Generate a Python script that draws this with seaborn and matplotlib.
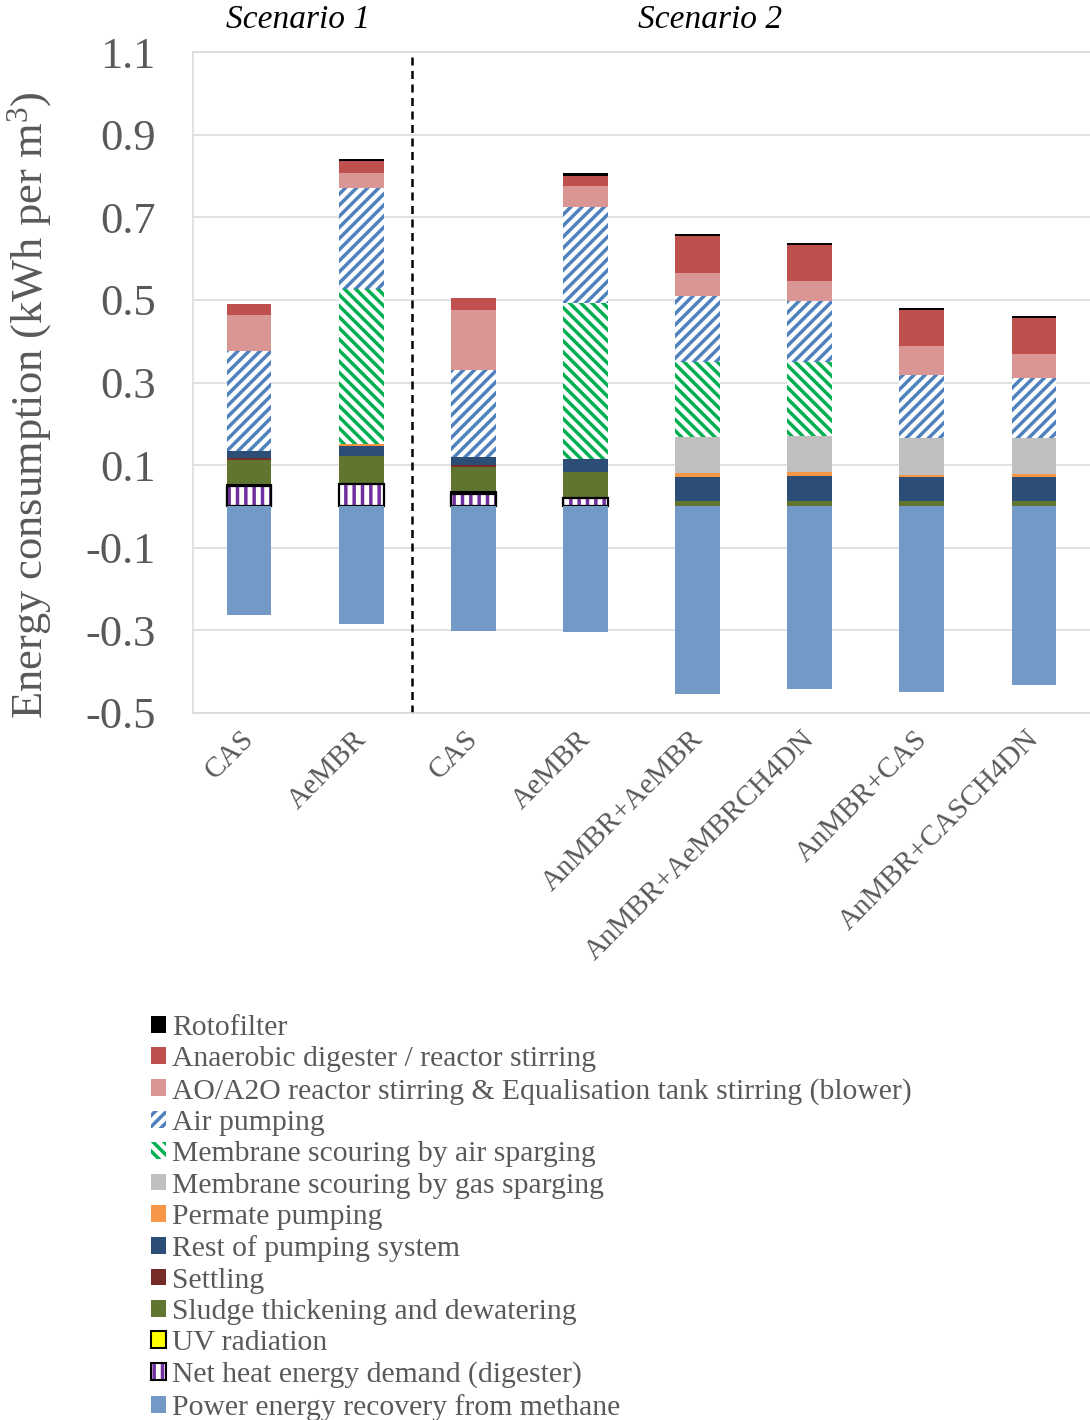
import numpy as np
import pandas as pd
import matplotlib
matplotlib.use("Agg")
import matplotlib.pyplot as plt
import matplotlib.transforms as mtransforms
from matplotlib.patches import Patch
import seaborn as sns

# ---------------- data ----------------
keys = ["CAS_1", "AeMBR_1", "CAS_2", "AeMBR_2", "AnMBR+AeMBR",
        "AnMBR+AeMBRCH4DN", "AnMBR+CAS", "AnMBR+CASCH4DN"]
tick_labels = ["CAS", "AeMBR", "CAS", "AeMBR", "AnMBR+AeMBR",
               "AnMBR+AeMBRCH4DN", "AnMBR+CAS", "AnMBR+CASCH4DN"]

rotofilter = [0.0, 0.006, 0.0, 0.007, 0.006, 0.006, 0.006, 0.006]
anaerobic = [0.026, 0.028, 0.028, 0.026, 0.090, 0.087, 0.087, 0.087]
ao_a2o = [0.087, 0.035, 0.145, 0.051, 0.055, 0.047, 0.070, 0.058]
air_pumping = [0.2415, 0.246, 0.210, 0.232, 0.160, 0.148, 0.153, 0.145]
air_sparging = [0.0, 0.375, 0.0, 0.376, 0.181, 0.180, 0.0, 0.0]
gas_sparging = [0.0, 0.0, 0.0, 0.0, 0.086, 0.086, 0.090, 0.086]
permeate = [0.0, 0.004, 0.0, 0.002, 0.010, 0.010, 0.003, 0.007]
rest_pumping = [0.017, 0.026, 0.020, 0.030, 0.060, 0.060, 0.058, 0.058]
settling = [0.0055, 0.0, 0.004, 0.0, 0.0, 0.0, 0.002, 0.002]
sludge = [0.0595, 0.067, 0.062, 0.064, 0.012, 0.014, 0.012, 0.012]
uv = [0.004, 0.0, 0.0035, 0.0, 0.0, 0.0, 0.0, 0.0]
net_heat = [0.049, 0.054, 0.031, 0.020, 0.0, 0.0, 0.0, 0.0]
power_recovery = [-0.263, -0.284, -0.301, -0.304, -0.454, -0.442, -0.449, -0.432]

legend_labels = ["Rotofilter", "Anaerobic digester / reactor stirring",
                 "AO/A2O reactor stirring & Equalisation tank stirring (blower)",
                 "Air pumping", "Membrane scouring by air sparging",
                 "Membrane scouring by gas sparging", "Permate pumping",
                 "Rest of pumping system", "Settling",
                 "Sludge thickening and dewatering", "UV radiation",
                 "Net heat energy demand (digester)",
                 "Power energy recovery from methane"]

# ---------------- style ----------------
sns.set_theme(style="white")
plt.rcParams["font.family"] = ["Liberation Serif", "DejaVu Serif"]
plt.rcParams["mathtext.fontset"] = "custom"
plt.rcParams["mathtext.rm"] = "Liberation Serif"
plt.rcParams["axes.unicode_minus"] = False
plt.rcParams["hatch.linewidth"] = 2.5

GREY_TXT = "#595959"
GRID = "#D9D9D9"

# stacking order bottom -> top: (values, face, edge, hatch, lw)
layers = [
    (net_heat, "white", "#7030A0", "||", 0.0),
    (uv, "#FFFF00", "black", None, 1.5),
    (sludge, "#5F7530", "none", None, 0.0),
    (settling, "#772C2A", "none", None, 0.0),
    (rest_pumping, "#2C4D75", "none", None, 0.0),
    (permeate, "#F79646", "none", None, 0.0),
    (gas_sparging, "#BFBFBF", "none", None, 0.0),
    (air_sparging, "white", "#00B050", "\\\\\\", 0.0),
    (air_pumping, "white", "#4F81BD", "///", 0.0),
    (ao_a2o, "#D99694", "none", None, 0.0),
    (anaerobic, "#C0504D", "none", None, 0.0),
    (rotofilter, "#000000", "none", None, 0.0),
]

vals = np.array([l[0] for l in layers], dtype=float)
cum = np.cumsum(vals, axis=0)

fig = plt.figure(figsize=(10.9, 14.2), dpi=100)
ax = fig.add_axes([193 / 1090, 1 - 713 / 1420, (1090 - 193) / 1090, (713 - 52) / 1420])
ax.set_axisbelow(True)

# draw cumulative bars from top layer down so each visible segment is its own
for i in range(len(layers) - 1, -1, -1):
    v, face, edge, hatch, lw = layers[i]
    mask = vals[i] > 0
    df = pd.DataFrame({"cat": np.array(keys)[mask], "top": cum[i][mask]})
    if df.empty:
        continue
    kw = dict(edgecolor=edge, linewidth=lw)
    if hatch:
        kw["hatch"] = hatch
    sns.barplot(data=df, x="cat", y="top", order=keys, color=face, saturation=1,
                width=0.4, errorbar=None, ax=ax, **kw)

# black outline around the net heat part
mask = np.array(net_heat) > 0
df_nh = pd.DataFrame({"cat": np.array(keys)[mask], "top": np.array(net_heat)[mask]})
sns.barplot(data=df_nh, x="cat", y="top", order=keys, fill=False, color="black",
            width=0.4, errorbar=None, ax=ax, edgecolor="black", linewidth=1.6)

# negative power recovery
df_p = pd.DataFrame({"cat": keys, "val": power_recovery})
sns.barplot(data=df_p, x="cat", y="val", order=keys, color="#7399C6", saturation=1,
            width=0.4, errorbar=None, ax=ax, linewidth=0)

# axes formatting
ax.set_xlim(-0.5, len(keys) - 0.5)
ax.set_ylim(-0.5, 1.1)
yt = np.round(np.arange(-0.5, 1.11, 0.2), 1)
ax.set_yticks(yt)
ax.set_yticklabels([f"{t:.1f}" for t in yt], fontsize=32, color=GREY_TXT)
ax.yaxis.grid(True, color=GRID, linewidth=1.1)
ax.xaxis.grid(False)
ax.tick_params(axis="y", length=0, pad=27)
ax.tick_params(axis="x", length=0, pad=16)
ax.set_xlabel("")
ax.set_ylabel("")
ax.set_xticks(range(len(keys)))
ax.set_xticklabels(tick_labels, rotation=45, ha="right", va="center",
                   rotation_mode="anchor", fontsize=21, color=GREY_TXT)
offset = mtransforms.ScaledTranslation(1 / 100, 0, fig.dpi_scale_trans)
for lab in ax.get_xticklabels():
    lab.set_transform(lab.get_transform() + offset)

for s in ["left", "bottom", "top"]:
    ax.spines[s].set_visible(True)
    ax.spines[s].set_color(GRID)
    ax.spines[s].set_linewidth(1.1)
ax.spines["right"].set_visible(False)

ax.axvline(1.45, color="black", linestyle=(0, (3.2, 2.2)), linewidth=1.8)

# scenario labels and y label
fig.text(298 / 1090, 1 - 20 / 1420, "Scenario 1", style="italic", fontsize=24,
         ha="center", va="center", color="black")
fig.text(710 / 1090, 1 - 20 / 1420, "Scenario 2", style="italic", fontsize=24,
         ha="center", va="center", color="black")
fig.text(30 / 1090, 1 - 405 / 1420, r"Energy consumption (kWh per m$\mathregular{^3}$)",
         rotation=90, ha="center", va="center", fontsize=32, color=GREY_TXT)

# legend
handles = [
    Patch(facecolor="#000000", edgecolor="none"),
    Patch(facecolor="#C0504D", edgecolor="none"),
    Patch(facecolor="#D99694", edgecolor="none"),
    Patch(facecolor="white", edgecolor="#4F81BD", hatch="///", linewidth=0),
    Patch(facecolor="white", edgecolor="#00B050", hatch="\\\\\\", linewidth=0),
    Patch(facecolor="#BFBFBF", edgecolor="none"),
    Patch(facecolor="#F79646", edgecolor="none"),
    Patch(facecolor="#2C4D75", edgecolor="none"),
    Patch(facecolor="#772C2A", edgecolor="none"),
    Patch(facecolor="#5F7530", edgecolor="none"),
    Patch(facecolor="#FFFF00", edgecolor="black", linewidth=1.5),
    (Patch(facecolor="white", edgecolor="#7030A0", hatch="||", linewidth=0),
     Patch(facecolor="none", edgecolor="black", linewidth=1.5)),
    Patch(facecolor="#7399C6", edgecolor="none"),
]
leg = fig.legend(handles, legend_labels, loc="upper left",
                 bbox_to_anchor=(151 / 1090, 1 - 1015 / 1420), frameon=False,
                 fontsize=21.3, handlelength=0.5, handleheight=0.5,
                 handletextpad=0.22, labelspacing=0.18, borderpad=0,
                 borderaxespad=0)
for t in leg.get_texts():
    t.set_color(GREY_TXT)

fig.savefig("out.png", dpi=100)
